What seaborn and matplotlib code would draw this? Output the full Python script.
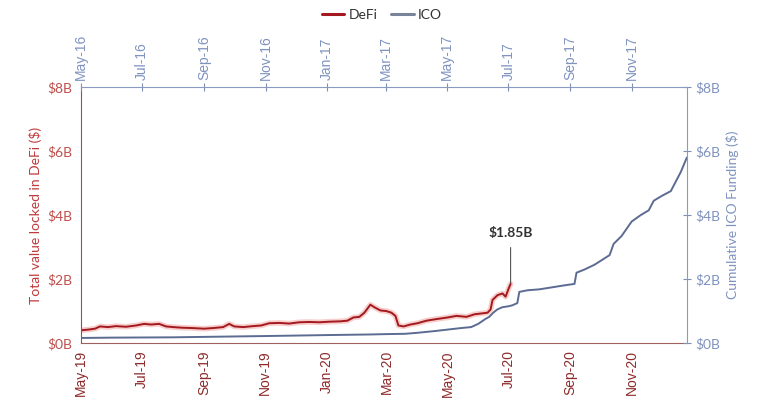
import pandas as pd
import matplotlib
matplotlib.use('Agg')
import matplotlib.pyplot as plt
import matplotlib.dates as mdates
from matplotlib.ticker import FuncFormatter
from matplotlib.lines import Line2D
import seaborn as sns

sns.set_style('white')
plt.rcParams['font.family'] = ['Lato', 'DejaVu Sans']

# DeFi: total value locked, $B (bottom axis 2019-2020)
defi_dates = ['2019-05-01', '2019-05-08', '2019-05-15', '2019-05-20', '2019-05-28',
              '2019-06-05', '2019-06-15', '2019-06-25', '2019-07-03', '2019-07-10',
              '2019-07-18', '2019-07-25', '2019-08-01', '2019-08-10', '2019-08-20',
              '2019-09-01', '2019-09-10', '2019-09-20', '2019-09-26', '2019-10-01',
              '2019-10-10', '2019-10-20', '2019-10-28', '2019-11-05', '2019-11-15',
              '2019-11-25', '2019-12-05', '2019-12-15', '2019-12-25', '2020-01-05',
              '2020-01-15', '2020-01-22', '2020-01-28', '2020-02-03', '2020-02-08',
              '2020-02-14', '2020-02-18', '2020-02-24', '2020-03-01', '2020-03-06',
              '2020-03-10', '2020-03-13', '2020-03-18', '2020-03-25', '2020-04-01',
              '2020-04-10', '2020-04-20', '2020-05-01', '2020-05-10', '2020-05-20',
              '2020-05-28', '2020-06-05', '2020-06-10', '2020-06-13', '2020-06-15',
              '2020-06-20', '2020-06-25', '2020-06-28', '2020-07-01', '2020-07-03']
defi_tvl = [0.40, 0.42, 0.45, 0.52, 0.50,
            0.53, 0.51, 0.55, 0.60, 0.58,
            0.60, 0.52, 0.50, 0.48, 0.47,
            0.45, 0.47, 0.50, 0.60, 0.52,
            0.50, 0.53, 0.55, 0.62, 0.63,
            0.61, 0.65, 0.66, 0.65, 0.67,
            0.68, 0.70, 0.80, 0.82, 0.95,
            1.20, 1.12, 1.02, 1.00, 0.95,
            0.85, 0.55, 0.52, 0.58, 0.62,
            0.70, 0.75, 0.80, 0.85, 0.82,
            0.90, 0.93, 0.95, 1.05, 1.35,
            1.50, 1.55, 1.45, 1.70, 1.85]

# ICO: cumulative funding, $B (top axis 2016-2017)
ico_dates = ['2016-05-01', '2016-06-01', '2016-08-01', '2016-09-15', '2016-11-01',
             '2017-01-01', '2017-02-15', '2017-03-01', '2017-03-20', '2017-04-01',
             '2017-04-20', '2017-05-01', '2017-05-15', '2017-05-25', '2017-06-01',
             '2017-06-08', '2017-06-12', '2017-06-16', '2017-06-20', '2017-06-25',
             '2017-07-01', '2017-07-05', '2017-07-10', '2017-07-12', '2017-07-20',
             '2017-08-01', '2017-08-15', '2017-08-25', '2017-09-05', '2017-09-07',
             '2017-09-15', '2017-09-25', '2017-10-05', '2017-10-10', '2017-10-14',
             '2017-10-22', '2017-11-01', '2017-11-10', '2017-11-18', '2017-11-23',
             '2017-12-01', '2017-12-10', '2017-12-15', '2017-12-20', '2017-12-26']
ico_funding = [0.16, 0.17, 0.18, 0.20, 0.22,
               0.25, 0.27, 0.28, 0.29, 0.32,
               0.38, 0.42, 0.47, 0.50, 0.60,
               0.75, 0.82, 0.95, 1.05, 1.12,
               1.15, 1.18, 1.25, 1.60, 1.65,
               1.68, 1.75, 1.80, 1.85, 2.20,
               2.30, 2.45, 2.65, 2.75, 3.10,
               3.35, 3.80, 4.00, 4.15, 4.45,
               4.60, 4.75, 5.05, 5.35, 5.80]

defi = pd.DataFrame({'date': pd.to_datetime(defi_dates), 'value': defi_tvl})
ico = pd.DataFrame({'date': pd.to_datetime(ico_dates), 'value': ico_funding})

RED = '#A3191F'
RED_TXT = '#C0504D'
BLUE = '#5B6B92'
BLUE_TXT = '#7F93BF'

fig = plt.figure(figsize=(7.64, 3.98), dpi=100)
ax = fig.add_axes([0.106, 0.138, 0.793, 0.643])
ax2 = fig.add_axes([0.106, 0.138, 0.793, 0.643], label='ico')
ax2.patch.set_visible(False)

# ICO line on top/right axes
sns.lineplot(data=ico, x='date', y='value', ax=ax2, color=BLUE, lw=1.4)
ax2.xaxis.tick_top()
ax2.xaxis.set_label_position('top')
ax2.yaxis.tick_right()
ax2.yaxis.set_label_position('right')
ax2.set_xlim(pd.Timestamp('2016-05-01'), pd.Timestamp('2017-12-26'))
ax2.set_ylim(0, 8)

# DeFi line with soft glow
sns.lineplot(data=defi, x='date', y='value', ax=ax, color='#F6C2BF', lw=4, alpha=0.8)
sns.lineplot(data=defi, x='date', y='value', ax=ax, color=RED, lw=1.4)
ax.set_xlim(pd.Timestamp('2019-05-01'), pd.Timestamp('2020-12-26'))
ax.set_ylim(0, 8)

ax.annotate('$1.85B', xy=(pd.Timestamp('2020-07-03'), 1.87),
            xytext=(pd.Timestamp('2020-07-03'), 3.45), ha='center', va='center',
            fontsize=10, fontweight='bold', color='#333333',
            arrowprops=dict(arrowstyle='-', color='#555555', lw=0.8, shrinkA=4, shrinkB=0))

fmt = mdates.DateFormatter('%b-%y')
money = FuncFormatter(lambda v, p: '$%dB' % v)

for a in (ax, ax2):
    a.xaxis.set_major_locator(mdates.MonthLocator(bymonth=[1, 3, 5, 7, 9, 11]))
    a.xaxis.set_major_formatter(fmt)
    a.yaxis.set_major_locator(plt.MultipleLocator(2))
    a.yaxis.set_major_formatter(money)
    a.set_xlabel('')

ax.tick_params(axis='x', labelrotation=90, labelsize=10, colors='#8E2A2A',
               direction='inout', length=6, width=0.8, pad=2)
for t in ax.get_xticklabels():
    t.set_fontfamily(['Liberation Sans', 'DejaVu Sans'])
ax.tick_params(axis='y', labelsize=10, colors='#A04040', labelcolor=RED_TXT,
               direction='inout', length=6, width=0.8, pad=3)
ax.set_ylabel('Total value locked in DeFi ($)', color='#C0393B', fontsize=10, labelpad=4)

ax2.tick_params(axis='x', labelrotation=90, labelsize=10, colors='#8090B0',
                labelcolor=BLUE_TXT, direction='inout', length=6, width=0.8, pad=2)
for t in ax2.get_xticklabels():
    t.set_fontfamily(['Liberation Sans', 'DejaVu Sans'])
ax2.tick_params(axis='y', labelsize=10, colors='#8090B0', labelcolor=BLUE_TXT,
                direction='inout', length=6, width=0.8, pad=3)
ax2.set_ylabel('Cumulative ICO Funding ($)', color=BLUE_TXT, fontsize=10, labelpad=4)

ax.spines['top'].set_visible(False)
ax.spines['right'].set_visible(False)
ax.spines['left'].set_color('#A04A4A')
ax.spines['bottom'].set_color('#A06060')
ax2.spines['left'].set_visible(False)
ax2.spines['bottom'].set_visible(False)
ax2.spines['top'].set_color('#8A9AC0')
ax2.spines['right'].set_color('#8A9AC0')

handles = [Line2D([], [], color=RED, lw=2.2), Line2D([], [], color='#7A8499', lw=2.2)]
fig.legend(handles, ['DeFi', 'ICO'], loc='upper center', bbox_to_anchor=(0.5, 1.01),
           ncol=2, frameon=False, fontsize=10, handlelength=1.6, handletextpad=0.3,
           columnspacing=1.0, labelcolor='#333333')

fig.savefig('out.png', dpi=100)
